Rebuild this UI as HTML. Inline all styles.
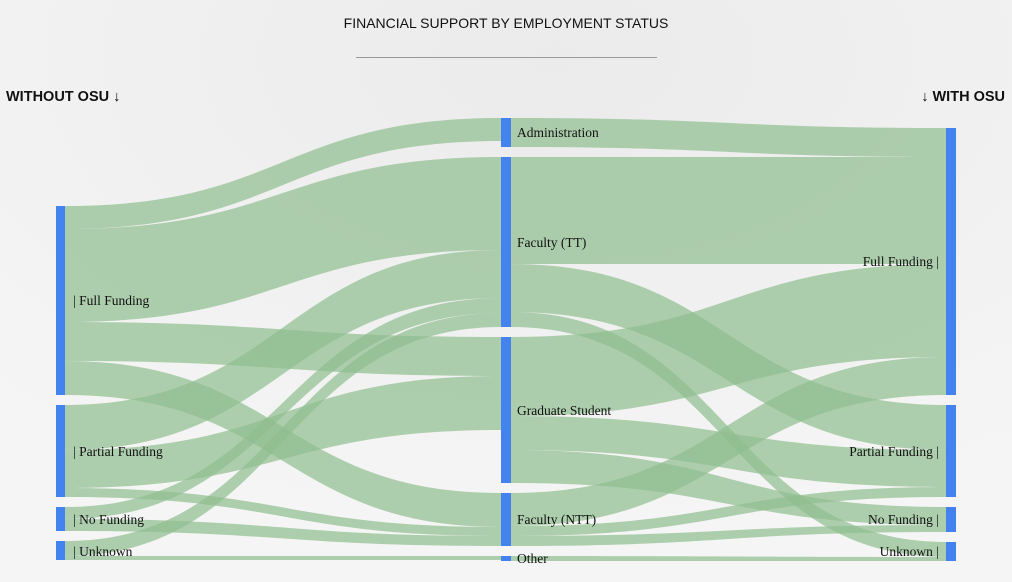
<!DOCTYPE html>
<html><head><meta charset="utf-8"><style>
html,body{margin:0;padding:0;width:1012px;height:582px;overflow:hidden;background:#f4f4f4;}
svg{display:block}
</style></head><body>
<svg width="1012" height="582" xmlns="http://www.w3.org/2000/svg">
<defs><radialGradient id="bg" cx="0.55" cy="0.1" r="0.8"><stop offset="0" stop-color="#ebebeb"/><stop offset="1" stop-color="#f5f5f5"/></radialGradient></defs>
<rect width="1012" height="582" fill="url(#bg)"/>
<text x="506" y="28" text-anchor="middle" font-family="Liberation Sans, sans-serif" font-size="14" fill="#111">FINANCIAL SUPPORT BY EMPLOYMENT STATUS</text>
<line x1="356" y1="57.5" x2="657" y2="57.5" stroke="#999" stroke-width="1"/>
<text x="6" y="101" font-family="Liberation Sans, sans-serif" font-size="14.5" font-weight="bold" fill="#111">WITHOUT OSU ↓</text>
<text x="1005" y="101" text-anchor="end" font-family="Liberation Sans, sans-serif" font-size="14.5" font-weight="bold" fill="#111">↓ WITH OSU</text>
<g fill="rgb(142,189,142)" fill-opacity="0.7">
<path d="M65 206C283 206 283 118 501 118L501 141C283 141 283 229 65 229Z"/>
<path d="M65 229C283 229 283 157 501 157L501 250C283 250 283 322 65 322Z"/>
<path d="M65 322C283 322 283 337 501 337L501 376C283 376 283 361 65 361Z"/>
<path d="M65 361C283 361 283 493 501 493L501 527C283 527 283 395 65 395Z"/>
<path d="M65 405C283 405 283 250 501 250L501 298C283 298 283 450 65 450Z"/>
<path d="M65 450C283 450 283 376 501 376L501 430C283 430 283 488 65 488Z"/>
<path d="M65 488C283 488 283 527 501 527L501 536C283 536 283 497 65 497Z"/>
<path d="M65 507C283 507 283 298 501 298L501 313C283 313 283 519 65 519Z"/>
<path d="M65 519C283 519 283 536 501 536L501 546C283 546 283 531 65 531Z"/>
<path d="M65 541C283 541 283 313 501 313L501 327C283 327 283 556 65 556Z"/>
<path d="M65 556C283 556 283 556 501 556L501 560C283 560 283 560 65 560Z"/>
<path d="M511 118C728.5 118 728.5 128 946 128L946 157C728.5 157 728.5 147 511 147Z"/>
<path d="M511 157C728.5 157 728.5 157 946 157L946 264C728.5 264 728.5 264 511 264Z"/>
<path d="M511 264C728.5 264 728.5 405 946 405L946 450C728.5 450 728.5 312 511 312Z"/>
<path d="M511 312C728.5 312 728.5 542 946 542L946 557C728.5 557 728.5 327 511 327Z"/>
<path d="M511 337C728.5 337 728.5 264 946 264L946 357C728.5 357 728.5 416 511 416Z"/>
<path d="M511 416C728.5 416 728.5 450 946 450L946 487C728.5 487 728.5 450 511 450Z"/>
<path d="M511 450C728.5 450 728.5 507 946 507L946 525C728.5 525 728.5 483 511 483Z"/>
<path d="M511 493C728.5 493 728.5 357 946 357L946 395C728.5 395 728.5 526 511 526Z"/>
<path d="M511 526C728.5 526 728.5 487 946 487L946 497C728.5 497 728.5 536 511 536Z"/>
<path d="M511 536C728.5 536 728.5 525 946 525L946 532C728.5 532 728.5 546 511 546Z"/>
<path d="M511 556C728.5 556 728.5 557 946 557L946 561C728.5 561 728.5 561 511 561Z"/>
</g>
<g fill="#4482f0">
<rect x="56" y="206" width="9" height="189"/><rect x="56" y="405" width="9" height="92"/><rect x="56" y="507" width="9" height="24"/><rect x="56" y="541" width="9" height="19"/>
<rect x="501" y="118" width="10" height="29"/><rect x="501" y="157" width="10" height="170"/><rect x="501" y="337" width="10" height="146"/><rect x="501" y="493" width="10" height="53"/><rect x="501" y="556" width="10" height="5"/>
<rect x="946" y="128" width="10" height="267"/><rect x="946" y="405" width="10" height="92"/><rect x="946" y="507" width="10" height="25"/><rect x="946" y="542" width="10" height="19"/>
</g>
<g font-family="Liberation Serif, serif" font-size="13.5" fill="#111">
<text x="73" y="305">| Full Funding</text>
<text x="73" y="456">| Partial Funding</text>
<text x="73" y="524">| No Funding</text>
<text x="73" y="556">| Unknown</text>
<text x="517" y="137">Administration</text>
<text x="517" y="247">Faculty (TT)</text>
<text x="517" y="415">Graduate Student</text>
<text x="517" y="524">Faculty (NTT)</text>
<text x="517" y="563">Other</text>
<g text-anchor="end">
<text x="939" y="266">Full Funding |</text>
<text x="939" y="456">Partial Funding |</text>
<text x="939" y="524">No Funding |</text>
<text x="939" y="556">Unknown |</text>
</g></g>
</svg>
</body></html>
